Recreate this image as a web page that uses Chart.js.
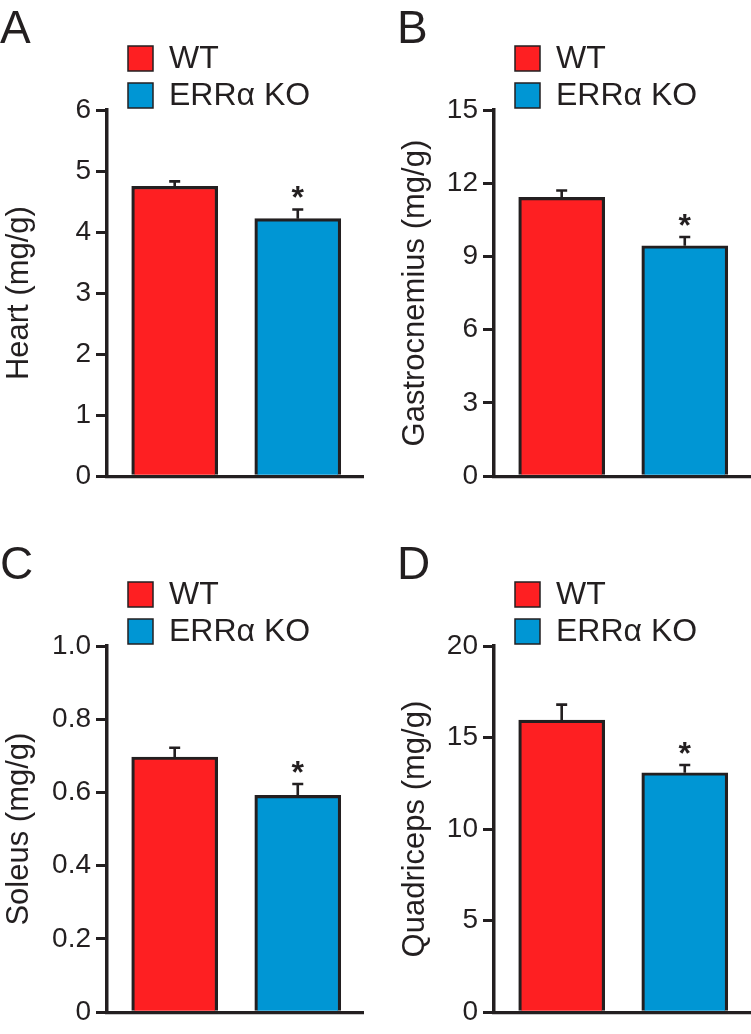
<!DOCTYPE html>
<html><head><meta charset="utf-8">
<script src="https://cdn.jsdelivr.net/npm/chart.js@4.4.1/dist/chart.umd.min.js"></script>
<style>
html,body{margin:0;padding:0;background:#fff;}
body{width:751px;height:1034px;position:relative;overflow:hidden;}
canvas{position:absolute;}
</style></head><body>
<canvas id="cA" width="375" height="498" style="left:0;top:0"></canvas>
<canvas id="cB" width="364" height="498" style="left:387px;top:0"></canvas>
<canvas id="cC" width="375" height="498" style="left:0;top:536px"></canvas>
<canvas id="cD" width="364" height="498" style="left:387px;top:536px"></canvas>
<script>
// ---- data ----
const categories = ['WT', 'ERRα KO'];
const categoryIndex = [0, 1];
const significant = [false, true];

const heartMean = [4.75, 4.22];
const heartErr = [0.08, 0.15];
const heartTicks = [0, 1, 2, 3, 4, 5, 6];

const gastroMean = [11.42, 9.44];
const gastroErr = [0.28, 0.36];
const gastroTicks = [0, 3, 6, 9, 12, 15];

const soleusMean = [0.697, 0.592];
const soleusErr = [0.025, 0.031];
const soleusTicks = [0, 0.2, 0.4, 0.6, 0.8, 1.0];

const quadMean = [15.95, 13.08];
const quadErr = [0.85, 0.42];
const quadTicks = [0, 5, 10, 15, 20];

const panelLetters = ['A', 'B', 'C', 'D'];
const yTitles = ['Heart (mg/g)', 'Gastrocnemius (mg/g)', 'Soleus (mg/g)', 'Quadriceps (mg/g)'];

// ---- style ----
const INK = '#231f20';
const RED = '#fe1f22';
const BLUE = '#0096d4';
const barColors = [RED, BLUE];
const FAMILY = '"Liberation Sans", Arial, Helvetica, sans-serif';

const decoPlugin = {
  id: 'deco',
  afterDatasetsDraw(chart, args, o) {
    const ctx = chart.ctx;
    const y = chart.scales.y;
    const meta = chart.getDatasetMeta(0);
    ctx.save();
    ctx.strokeStyle = INK;
    ctx.lineWidth = 2.6;
    meta.data.forEach((bar, i) => {
      const top = y.getPixelForValue(o.mean[i] + o.err[i]);
      ctx.beginPath();
      ctx.moveTo(bar.x, bar.y);
      ctx.lineTo(bar.x, top);
      ctx.moveTo(bar.x - 5.5, top);
      ctx.lineTo(bar.x + 5.5, top);
      ctx.stroke();
      if (o.sig[i]) {
        ctx.fillStyle = INK;
        ctx.font = 'bold 32px ' + FAMILY;
        ctx.textAlign = 'center';
        ctx.textBaseline = 'alphabetic';
        ctx.fillText('*', bar.x, top - 1);
      }
    });
    ctx.restore();
  },
  afterDraw(chart, args, o) {
    const ctx = chart.ctx;
    ctx.save();
    ctx.fillStyle = INK;
    ctx.font = '46px ' + FAMILY;
    ctx.textAlign = 'left';
    ctx.textBaseline = 'alphabetic';
    ctx.fillText(o.letter, o.letterX, 43);
    chart.data.labels.forEach((lab, i) => {
      const sy = 46 + i * 37;
      ctx.fillStyle = barColors[i];
      ctx.fillRect(128, sy, 25, 25);
      ctx.strokeStyle = INK;
      ctx.lineWidth = 1.5;
      ctx.strokeRect(128, sy, 25, 25);
      ctx.fillStyle = INK;
      ctx.font = '32px ' + FAMILY;
      ctx.textBaseline = 'middle';
      ctx.fillText(lab, 169, sy + 13.5);
    });
    ctx.restore();
  }
};

function makeChart(id, idx, mean, err, ticks, fmt, rightPad, letterX, titlePad) {
  return new Chart(document.getElementById(id), {
    type: 'bar',
    data: {
      labels: categories,
      datasets: [{
        data: categoryIndex.map((c, i) => ({ x: c, y: mean[i] })),
        backgroundColor: barColors,
        borderColor: INK,
        borderWidth: 3.2,
        borderSkipped: 'start',
        barThickness: 86
      }]
    },
    options: {
      responsive: false,
      animation: false,
      devicePixelRatio: 1,
      layout: { padding: { top: 110, left: 0, right: rightPad, bottom: 0 } },
      plugins: {
        legend: { display: false },
        tooltip: { enabled: false },
        deco: { letter: panelLetters[idx], letterX: letterX, mean: mean, err: err, sig: significant }
      },
      scales: {
        x: {
          type: 'linear',
          offset: false,
          min: -0.55,
          max: 1.53,
          afterFit: s => { s.height = 19; },
          ticks: { display: false },
          grid: { display: false, offset: false },
          border: { display: true, color: INK, width: 3.2 }
        },
        y: {
          min: ticks[0],
          max: ticks[ticks.length - 1],
          afterBuildTicks: s => { s.ticks = ticks.map(v => ({ value: v })); },
          afterFit: s => { s.width = 107; },
          ticks: { color: INK, font: { family: FAMILY, size: 28 }, padding: 5, callback: fmt },
          grid: { display: true, drawOnChartArea: false, drawTicks: true, tickLength: 11, tickWidth: 3, tickColor: INK, color: INK, lineWidth: 3 },
          border: { display: true, color: INK, width: 3.5 },
          title: { display: true, text: yTitles[idx], color: INK, font: { family: FAMILY, size: 31 }, padding: { top: titlePad, bottom: 0 } }
        }
      }
    },
    plugins: [decoPlugin]
  });
}

const intFmt = v => String(v);
const decFmt = v => (v === 0 ? '0' : v.toFixed(1));

makeChart('cA', 0, heartMean, heartErr, heartTicks, intFmt, 12, 0, 1);
makeChart('cB', 1, gastroMean, gastroErr, gastroTicks, intFmt, 1, 10, 10);
makeChart('cC', 2, soleusMean, soleusErr, soleusTicks, decFmt, 12, 0, 1);
makeChart('cD', 3, quadMean, quadErr, quadTicks, intFmt, 1, 10, 10);
</script>
</body></html>
